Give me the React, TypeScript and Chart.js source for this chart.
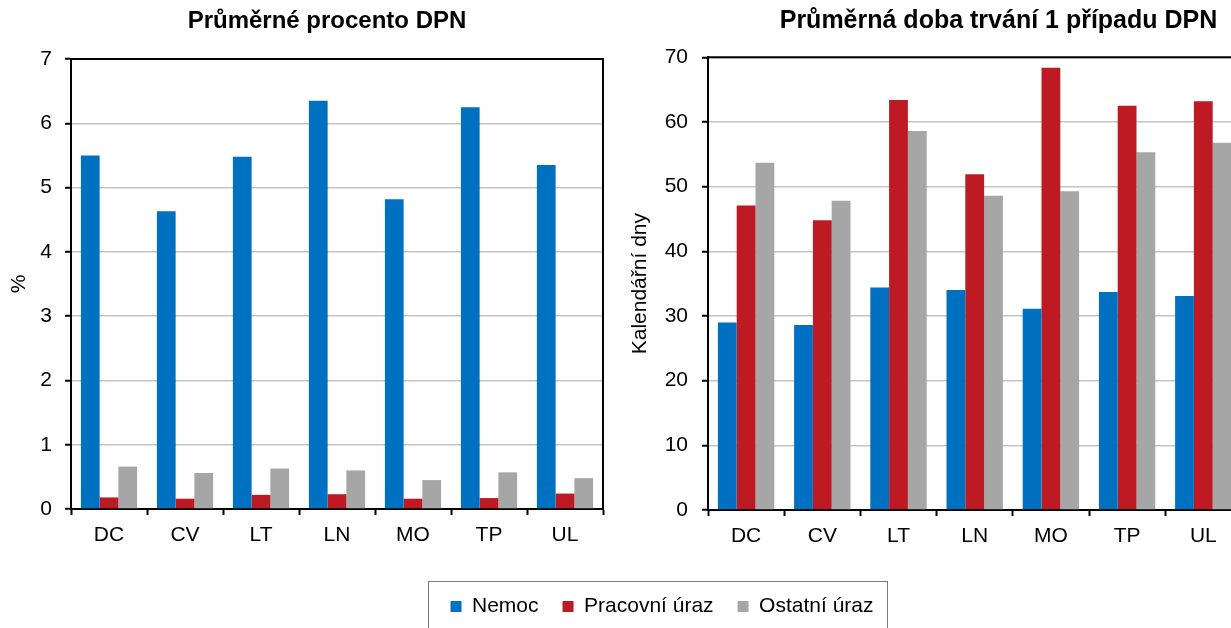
import React, { useEffect, useRef } from "react";
import { Chart, registerables } from "chart.js";

Chart.register(...registerables);

const categories = ["DC", "CV", "LT", "LN", "MO", "TP", "UL"];
const seriesLabels = ["Nemoc", "Pracovní úraz", "Ostatní úraz"];

// Průměrné procento DPN (%)
const percentNemoc = [5.5, 4.63, 5.48, 6.35, 4.82, 6.25, 5.35];
const percentPracovni = [0.18, 0.16, 0.22, 0.23, 0.16, 0.17, 0.24];
const percentOstatni = [0.66, 0.56, 0.63, 0.6, 0.45, 0.57, 0.48];

// Průměrná doba trvání 1 případu DPN (kalendářní dny)
const daysNemoc = [29.0, 28.6, 34.4, 34.0, 31.1, 33.7, 33.1];
const daysPracovni = [47.1, 44.8, 63.4, 51.9, 68.4, 62.5, 63.2];
const daysOstatni = [53.7, 47.8, 58.6, 48.6, 49.3, 55.3, 56.8];

const FONT = "'Liberation Sans', Arial, sans-serif";
const COLORS = ["#0070C0", "#BE1A24", "#A6A6A6"];

const framePlugin = {
  id: "frame",
  afterDraw(chart: any, _args: any, opts: any) {
    const { ctx, chartArea } = chart;
    const { left, right, top, bottom } = chartArea;
    ctx.save();
    ctx.strokeStyle = "#000";
    ctx.lineWidth = 2;
    ctx.beginPath();
    ctx.moveTo(left - 1, top);
    ctx.lineTo(right + 1, top);
    if (opts && opts.right) {
      ctx.moveTo(right, top);
      ctx.lineTo(right, bottom);
    }
    ctx.stroke();
    ctx.restore();
  },
};

function makeConfig(p: any) {
  return {
    type: "bar",
    data: {
      labels: categories,
      datasets: p.series.map((vals: number[], i: number) => ({
        label: seriesLabels[i],
        data: vals,
        backgroundColor: COLORS[i],
        borderWidth: 0,
        categoryPercentage: 0.74,
        barPercentage: 1,
      })),
    },
    options: {
      animation: false,
      responsive: false,
      devicePixelRatio: 1,
      layout: { padding: 0 },
      plugins: {
        legend: { display: false },
        tooltip: { enabled: false },
        frame: { right: p.frameRight },
        title: {
          display: true,
          text: p.title,
          color: "#000",
          font: { family: FONT, size: p.titleSize, weight: "bold" },
          padding: { top: p.titleTop, bottom: p.titleBottom },
        },
      },
      scales: {
        x: {
          ticks: { color: "#000", font: { family: FONT, size: 21 }, padding: 8 },
          grid: {
            display: true,
            drawOnChartArea: false,
            tickColor: "#000",
            tickLength: 6,
            tickWidth: 2,
            offset: true,
          },
          border: { color: "#000", width: 2 },
          afterFit: (s: any) => {
            s.height = p.xHeight;
          },
        },
        y: {
          min: 0,
          max: p.yMax,
          ticks: {
            stepSize: p.yStep,
            color: "#000",
            font: { family: FONT, size: 21 },
            padding: p.yTickPad,
          },
          grid: {
            color: "#c4c4c4",
            lineWidth: 1.5,
            tickColor: "#000",
            tickLength: 6,
            tickWidth: 2,
          },
          border: { color: "#000", width: 2 },
          title: {
            display: true,
            text: p.yTitle,
            color: "#000",
            font: { family: FONT, size: 21 },
            padding: { top: p.yTitlePad, bottom: 0 },
          },
          afterFit: (s: any) => {
            s.width = p.yWidth;
          },
        },
        yRight: {
          type: "linear",
          position: "right",
          display: true,
          grid: { display: false },
          ticks: { display: false },
          border: { display: false },
          afterFit: (s: any) => {
            s.width = p.rightWidth;
          },
        },
      },
    },
    plugins: [framePlugin],
  };
}

function Panel(props: any) {
  const ref = useRef<HTMLCanvasElement>(null);
  useEffect(() => {
    const chart = new Chart(ref.current as HTMLCanvasElement, props.config);
    return () => chart.destroy();
  }, []);
  return (
    <canvas
      ref={ref}
      width={props.w}
      height={props.h}
      style={{ position: "absolute", left: props.x, top: props.y, width: props.w, height: props.h }}
    />
  );
}

function LegendPanel() {
  const ref = useRef<HTMLCanvasElement>(null);
  useEffect(() => {
    const chart = new Chart(ref.current as HTMLCanvasElement, {
      type: "bar",
      data: {
        labels: [],
        datasets: seriesLabels.map((l, i) => ({
          label: l,
          data: [],
          backgroundColor: COLORS[i],
          borderWidth: 0,
        })),
      },
      options: {
        animation: false,
        responsive: false,
        devicePixelRatio: 1,
        layout: { padding: 0 },
        scales: { x: { display: false }, y: { display: false } },
        plugins: {
          tooltip: { enabled: false },
          legend: {
            display: true,
            position: "top",
            maxHeight: 120,
            labels: {
              boxWidth: 11,
              boxHeight: 11,
              color: "#000",
              font: { family: FONT, size: 21 },
              padding: 24,
            },
          },
        },
      },
    } as any);
    return () => chart.destroy();
  }, []);
  return (
    <>
      <div
        style={{
          position: "absolute",
          left: 428,
          top: 581,
          width: 460,
          height: 80,
          boxSizing: "border-box",
          border: "1.5px solid #7a7a7a",
        }}
      />
      <canvas
        ref={ref}
        width={560}
        height={160}
        style={{ position: "absolute", left: 382, top: 572, width: 560, height: 160 }}
      />
    </>
  );
}

export default function App() {
  const leftConfig = makeConfig({
    series: [percentNemoc, percentPracovni, percentOstatni],
    title: "Průměrné procento DPN",
    titleSize: 24,
    titleTop: 7,
    titleBottom: 23.2,
    yMax: 7,
    yStep: 1,
    yTitle: "%",
    yTitlePad: 7,
    yTickPad: 13,
    yWidth: 71,
    rightWidth: 51,
    xHeight: 51,
    frameRight: true,
  });
  const rightConfig = makeConfig({
    series: [daysNemoc, daysPracovni, daysOstatni],
    title: "Průměrná doba trvání 1 případu DPN",
    titleSize: 25,
    titleTop: 6,
    titleBottom: 21.3,
    yMax: 70,
    yStep: 10,
    yTitle: "Kalendářní dny",
    yTitlePad: 7.4,
    yTickPad: 14,
    yWidth: 88,
    rightWidth: 135.6,
    xHeight: 50,
    frameRight: true,
  });
  return (
    <div
      style={{
        position: "absolute",
        left: 0,
        top: 0,
        width: 1231,
        height: 628,
        overflow: "hidden",
        background: "#fff",
      }}
    >
      <Panel config={leftConfig} x={0} y={0} w={654} h={560} />
      <Panel config={rightConfig} x={620} y={0} w={757} h={560} />
      <LegendPanel />
    </div>
  );
}
